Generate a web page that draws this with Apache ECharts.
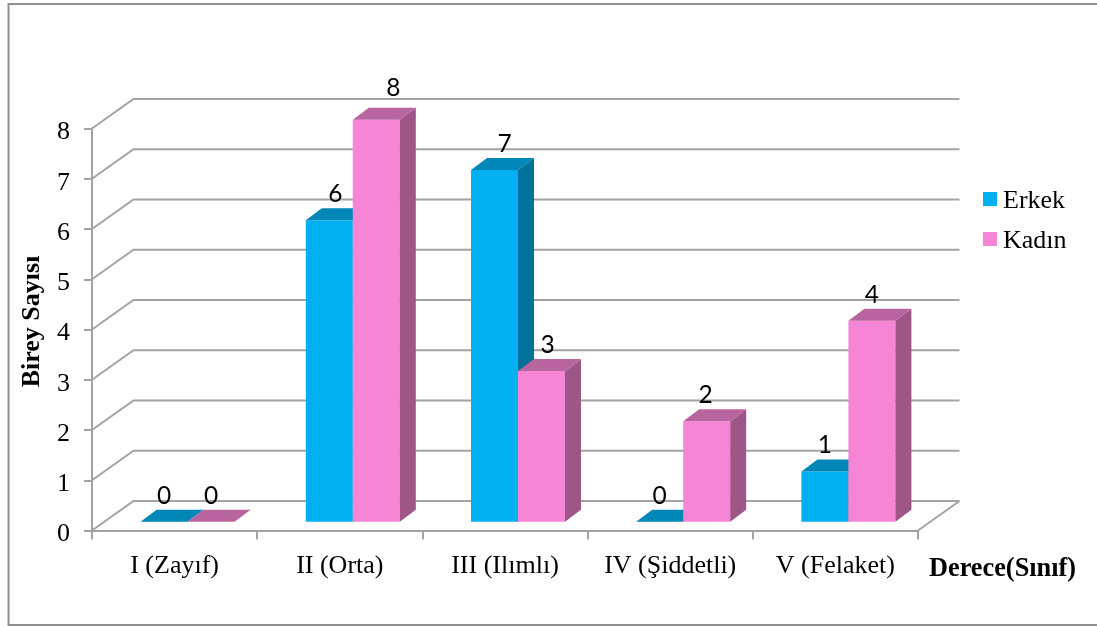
<!DOCTYPE html>
<html>
<head>
<meta charset="utf-8">
<script src="https://cdn.jsdelivr.net/npm/echarts@6/dist/echarts.min.js"></script>
<style>html,body{margin:0;padding:0;background:#fff}#c{width:1097px;height:626px}</style>
</head>
<body>
<div id="c"></div>
<script>
// Values
const categories = ['I (Zayıf)', 'II (Orta)', 'III (Ilımlı)', 'IV (Şiddetli)', 'V (Felaket)'];
const erkek = [0, 6, 7, 0, 1];
const kadin = [0, 8, 3, 2, 4];
const yTicks = [0, 1, 2, 3, 4, 5, 6, 7, 8];

// Hand-placed label shifts along x, per series and category
const erkekLabelShift = [0, 6, 10, 0, 0];
const kadinLabelShift = [0, 17, 6, -1, 0];

// Pseudo-3D projection, in pixels
const WALL_DX = 41.5, WALL_DY = -29.5;    // depth of the whole floor
const BAR_DX = 13, BAR_DY = -8.7;         // bar front face behind the axis plane
const DEPTH_DX = 16, DEPTH_DY = -12;      // depth of each bar
const BAR_W = 47;

const GRID_COLOR = '#a3a3a3';
const SERIF = '"Liberation Serif", serif';

const palette = {
  Erkek: { front: '#00b0f0', top: '#0086b7', side: '#00719b' },
  Kadın: { front: '#f685d5', top: '#b8649f', side: '#9e5588' }
};

function wallRenderer(params, api) {
  const v = api.value(1);
  const band = api.size([1, 0])[0];
  const p = api.coord([0, v]);
  const x0 = p[0] - band / 2;
  const points = [[x0, p[1]], [x0 + WALL_DX, p[1] + WALL_DY], [x0 + band * categories.length + WALL_DX, p[1] + WALL_DY]];
  const children = [{
    type: 'polyline',
    shape: { points },
    style: { stroke: GRID_COLOR, lineWidth: 2, fill: null }
  }];
  if (v === 0) {
    const xr = x0 + band * categories.length;
    children.push({
      type: 'line',
      shape: { x1: xr, y1: p[1], x2: xr + WALL_DX, y2: p[1] + WALL_DY },
      style: { stroke: GRID_COLOR, lineWidth: 2 }
    });
  }
  return { type: 'group', children };
}

function barRenderer(seriesName, side, shifts) {
  const c = palette[seriesName];
  return function (params, api) {
    const i = api.value(0);
    const v = api.value(1);
    const base = api.coord([i, 0]);
    const head = api.coord([i, v]);
    const xl = base[0] + BAR_DX + (side < 0 ? -BAR_W : 0);
    const xr = xl + BAR_W;
    const yb = base[1] + BAR_DY;
    const yt = head[1] + BAR_DY;
    const children = [];
    if (v > 0) {
      children.push({
        type: 'rect',
        shape: { x: xl, y: yt, width: BAR_W, height: yb - yt },
        style: { fill: c.front }
      });
      children.push({
        type: 'polygon',
        shape: { points: [[xr, yt], [xr + DEPTH_DX, yt + DEPTH_DY], [xr + DEPTH_DX, yb + DEPTH_DY], [xr, yb]] },
        style: { fill: c.side }
      });
    }
    children.push({
      type: 'polygon',
      shape: { points: [[xl, yt], [xl + DEPTH_DX, yt + DEPTH_DY], [xr + DEPTH_DX, yt + DEPTH_DY], [xr, yt]] },
      style: { fill: c.top }
    });
    children.push({
      type: 'text',
      style: {
        text: String(v),
        x: (xl + xr) / 2 + shifts[i],
        y: yt - (v === 8 ? 32 : 26),
        align: 'center',
        verticalAlign: 'middle',
        fill: '#000',
        font: '24.5px Lato, sans-serif'
      }
    });
    return { type: 'group', children };
  };
}

const chart = echarts.init(document.getElementById('c'), null, { renderer: 'canvas' });
chart.setOption({
  animation: false,
  backgroundColor: '#fff',
  grid: { left: 92, right: 179, top: 128.5, bottom: 95.5, containLabel: false },
  legend: {
    show: true,
    orient: 'vertical',
    left: 978,
    top: 183,
    icon: 'rect',
    itemWidth: 14,
    itemHeight: 14,
    itemGap: 14,
    data: ['Erkek', 'Kadın'],
    formatter: '{name|{name}}',
    textStyle: {
      color: '#000',
      rich: { name: { fontFamily: SERIF, fontSize: 26, color: '#000', padding: [4, 0, 0, 1] } }
    }
  },
  xAxis: {
    type: 'category',
    data: categories,
    boundaryGap: true,
    axisLine: { lineStyle: { color: GRID_COLOR, width: 2 } },
    axisTick: { show: true, length: 9, alignWithLabel: false, lineStyle: { color: GRID_COLOR, width: 2 } },
    axisLabel: { fontFamily: SERIF, fontSize: 26, color: '#000', margin: 23, interval: 0 },
    splitLine: { show: false }
  },
  yAxis: {
    type: 'value',
    min: 0,
    max: 8,
    interval: 1,
    name: 'Birey Sayısı',
    nameLocation: 'middle',
    nameGap: 47,
    nameRotate: 90,
    nameTextStyle: { fontFamily: SERIF, fontSize: 26, fontWeight: 'bold', color: '#000', padding: [0, 0, 0, 16] },
    axisLine: { show: true, lineStyle: { color: GRID_COLOR, width: 2 } },
    axisTick: { show: true, length: 8, lineStyle: { color: GRID_COLOR, width: 2 } },
    axisLabel: {
      color: '#000',
      margin: 22,
      formatter: '{tick|{value}}',
      rich: { tick: { fontFamily: SERIF, fontSize: 26, color: '#000', padding: [8, 0, 0, 0] } }
    },
    splitLine: { show: false }
  },
  graphic: [
    {
      type: 'rect',
      shape: { x: 8.5, y: 4, width: 1100, height: 621 },
      style: { fill: null, stroke: '#8f8f8f', lineWidth: 2 },
      silent: true,
      z: -1
    },
    {
      type: 'text',
      x: 929,
      y: 569,
      style: {
        text: 'Derece(Sınıf)',
        font: 'bold 26.3px "Liberation Serif", serif',
        fill: '#000',
        align: 'left',
        verticalAlign: 'middle'
      },
      silent: true
    }
  ],
  series: [
    {
      type: 'custom',
      name: 'wall',
      z: 1,
      silent: true,
      renderItem: wallRenderer,
      encode: { x: 0, y: 1 },
      data: yTicks.map(t => [0, t])
    },
    {
      type: 'custom',
      name: 'Erkek',
      z: 3,
      itemStyle: { color: palette.Erkek.front },
      renderItem: barRenderer('Erkek', -1, erkekLabelShift),
      encode: { x: 0, y: 1 },
      data: erkek.map((v, i) => [i, v])
    },
    {
      type: 'custom',
      name: 'Kadın',
      z: 4,
      itemStyle: { color: palette.Kadın.front },
      renderItem: barRenderer('Kadın', 1, kadinLabelShift),
      encode: { x: 0, y: 1 },
      data: kadin.map((v, i) => [i, v])
    }
  ]
});
</script>
</body>
</html>
